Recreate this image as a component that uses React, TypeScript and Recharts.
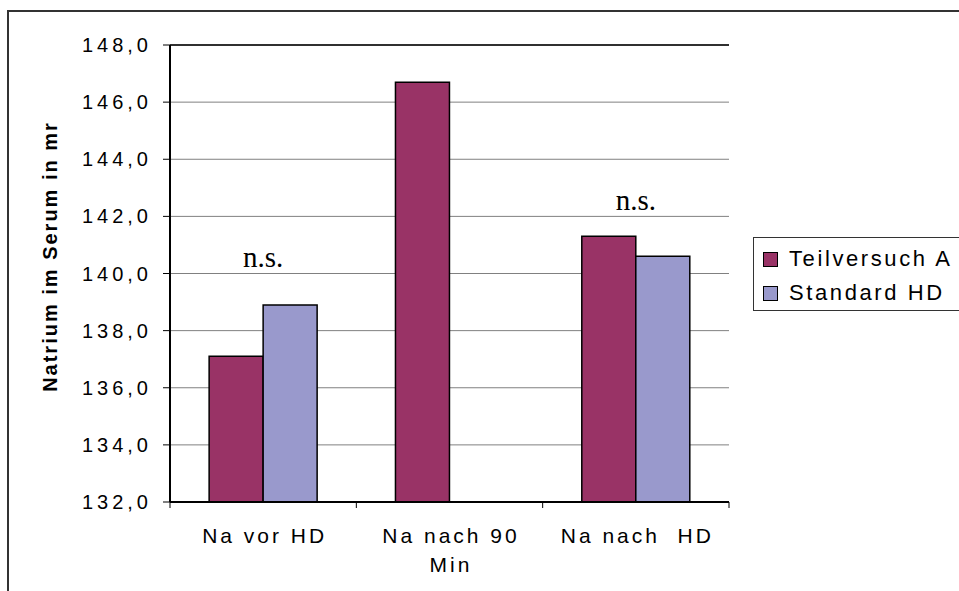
import React from "react";
import { BarChart, Bar, XAxis, YAxis, CartesianGrid, Legend, ReferenceLine, ReferenceDot } from "recharts";

const categories = ["Na vor HD", "Na nach 90 Min", "Na nach  HD"];
const tickLines = [["Na vor HD"], ["Na nach 90", "Min"], ["Na nach  HD"]];
const teilversuchA = [137.1, 146.7, 141.3];
const standardHD: (number | null)[] = [138.9, null, 140.6];
const yTicks = [132, 134, 136, 138, 140, 142, 144, 146, 148];

// significance notes drawn above the groups
const notes = [
  { category: "Na vor HD", y: 140.6, text: "n.s." },
  { category: "Na nach  HD", y: 142.6, text: "n.s." },
];

const series = [
  { key: "teilA", name: "Teilversuch A", color: "#993366" },
  { key: "std", name: "Standard HD", color: "#9999cc" },
];

const data = categories.map((c, i) => ({ name: c, teilA: teilversuchA[i], std: standardHD[i] }));

const SANS = "'Liberation Sans', Arial, sans-serif";
const SERIF = "'Liberation Serif', 'Times New Roman', serif";

const fmt = (v: number) => v.toFixed(1).replace(".", ",");

// eslint-disable-next-line @typescript-eslint/no-explicit-any
const XTick = (props: any) => {
  const { x, y, payload, index } = props;
  const half = payload?.offset ?? 0;
  const lines = tickLines[index] ?? [String(payload.value)];
  return (
    <g>
      <line x1={x - half} x2={x - half} y1={y} y2={y + 6} stroke="#000" strokeWidth={1} />
      {index === categories.length - 1 && (
        <line x1={x + half} x2={x + half} y1={y} y2={y + 6} stroke="#000" strokeWidth={1} />
      )}
      <text
        x={x}
        y={y + 41}
        textAnchor="middle"
        fontFamily={SANS}
        fontSize={21}
        letterSpacing={3}
        fill="#000"
        style={{ whiteSpace: "pre" }}
      >
        {lines.map((l: string, i: number) => (
          <tspan key={i} x={x + 1.5} dy={i === 0 ? 0 : 29}>
            {l}
          </tspan>
        ))}
      </text>
    </g>
  );
};

// eslint-disable-next-line @typescript-eslint/no-explicit-any
const YTick = (props: any) => {
  const { x, y, payload } = props;
  return (
    <text x={x} y={y} dy={7} textAnchor="end" fontFamily={SANS} fontSize={20} letterSpacing={4} fill="#000">
      {fmt(payload.value)}
    </text>
  );
};

// eslint-disable-next-line @typescript-eslint/no-explicit-any
const YLabel = (props: any) => {
  const { viewBox } = props;
  const cx = viewBox.x + 50;
  const cy = viewBox.y + viewBox.height / 2 - 17;
  return (
    <text
      x={cx}
      y={cy}
      transform={`rotate(-90, ${cx}, ${cy})`}
      textAnchor="middle"
      dominantBaseline="central"
      fontFamily={SANS}
      fontWeight="bold"
      fontSize={20}
      letterSpacing={2}
      fill="#000"
    >
      Natrium im Serum in mr
    </text>
  );
};

const LegendBox = () => (
  <div
    style={{
      border: "1px solid #333",
      background: "#fff",
      padding: "4px 0 4px 9px",
      width: 260,
      height: 74,
      boxSizing: "border-box",
      fontFamily: SANS,
      fontSize: 22,
      letterSpacing: 2.6,
    }}
  >
    {series.map((s) => (
      <div key={s.key} style={{ display: "flex", alignItems: "center", height: 34, lineHeight: "34px" }}>
        <span
          style={{
            display: "inline-block",
            width: 15,
            height: 15,
            boxSizing: "border-box",
            background: s.color,
            border: "1.5px solid #000",
            marginRight: 11,
          }}
        />
        <span>{s.name}</span>
      </div>
    ))}
  </div>
);

export default function App() {
  return (
    <div style={{ position: "absolute", left: 0, top: 0, width: 959, height: 591, overflow: "hidden", background: "#fff" }}>
      <div
        style={{
          position: "absolute",
          left: 7,
          top: 10,
          width: 1000,
          height: 1000,
          borderLeft: "2px solid #333",
          borderTop: "2px solid #333",
        }}
      />
      <BarChart
        width={959}
        height={591}
        data={data}
        margin={{ top: 45, right: 230, bottom: 9, left: 0 }}
        barCategoryGap="21%"
        barGap={0}
        style={{ position: "absolute", left: 0, top: 0 }}
      >
        <CartesianGrid vertical={false} stroke="#808080" strokeWidth={1} />
        <XAxis
          dataKey="name"
          height={80}
          tickLine={false}
          tickSize={0}
          tickMargin={0}
          tick={<XTick />}
          interval={0}
          axisLine={{ stroke: "#000", strokeWidth: 2 }}
        />
        <YAxis
          width={170}
          domain={[132, 148]}
          ticks={yTicks}
          tickSize={7}
          tickMargin={11}
          tick={<YTick />}
          tickLine={{ stroke: "#000" }}
          axisLine={{ stroke: "#000", strokeWidth: 2 }}
          interval={0}
          label={<YLabel />}
        />
        <YAxis
          yAxisId="frame"
          orientation="right"
          width={0}
          domain={[132, 148]}
          tick={false}
          tickLine={false}
          axisLine={{ stroke: "#000", strokeWidth: 1.5 }}
        />
        <ReferenceLine y={148} stroke="#000" strokeWidth={1.5} />
        {series.map((s) => (
          <Bar
            key={s.key}
            dataKey={s.key}
            name={s.name}
            fill={s.color}
            stroke="#000"
            strokeWidth={1.5}
            isAnimationActive={false}
          />
        ))}
        {notes.map((n, i) => (
          <ReferenceDot
            key={i}
            x={n.category}
            y={n.y}
            r={0}
            stroke="none"
            fill="none"
            label={{ value: n.text, position: "center", fontFamily: SERIF, fontSize: 29, fill: "#000" }}
          />
        ))}
        <Legend
          layout="vertical"
          align="center"
          verticalAlign="middle"
          wrapperStyle={{ left: 753, top: 237, width: 260 }}
          content={<LegendBox />}
        />
      </BarChart>
    </div>
  );
}
